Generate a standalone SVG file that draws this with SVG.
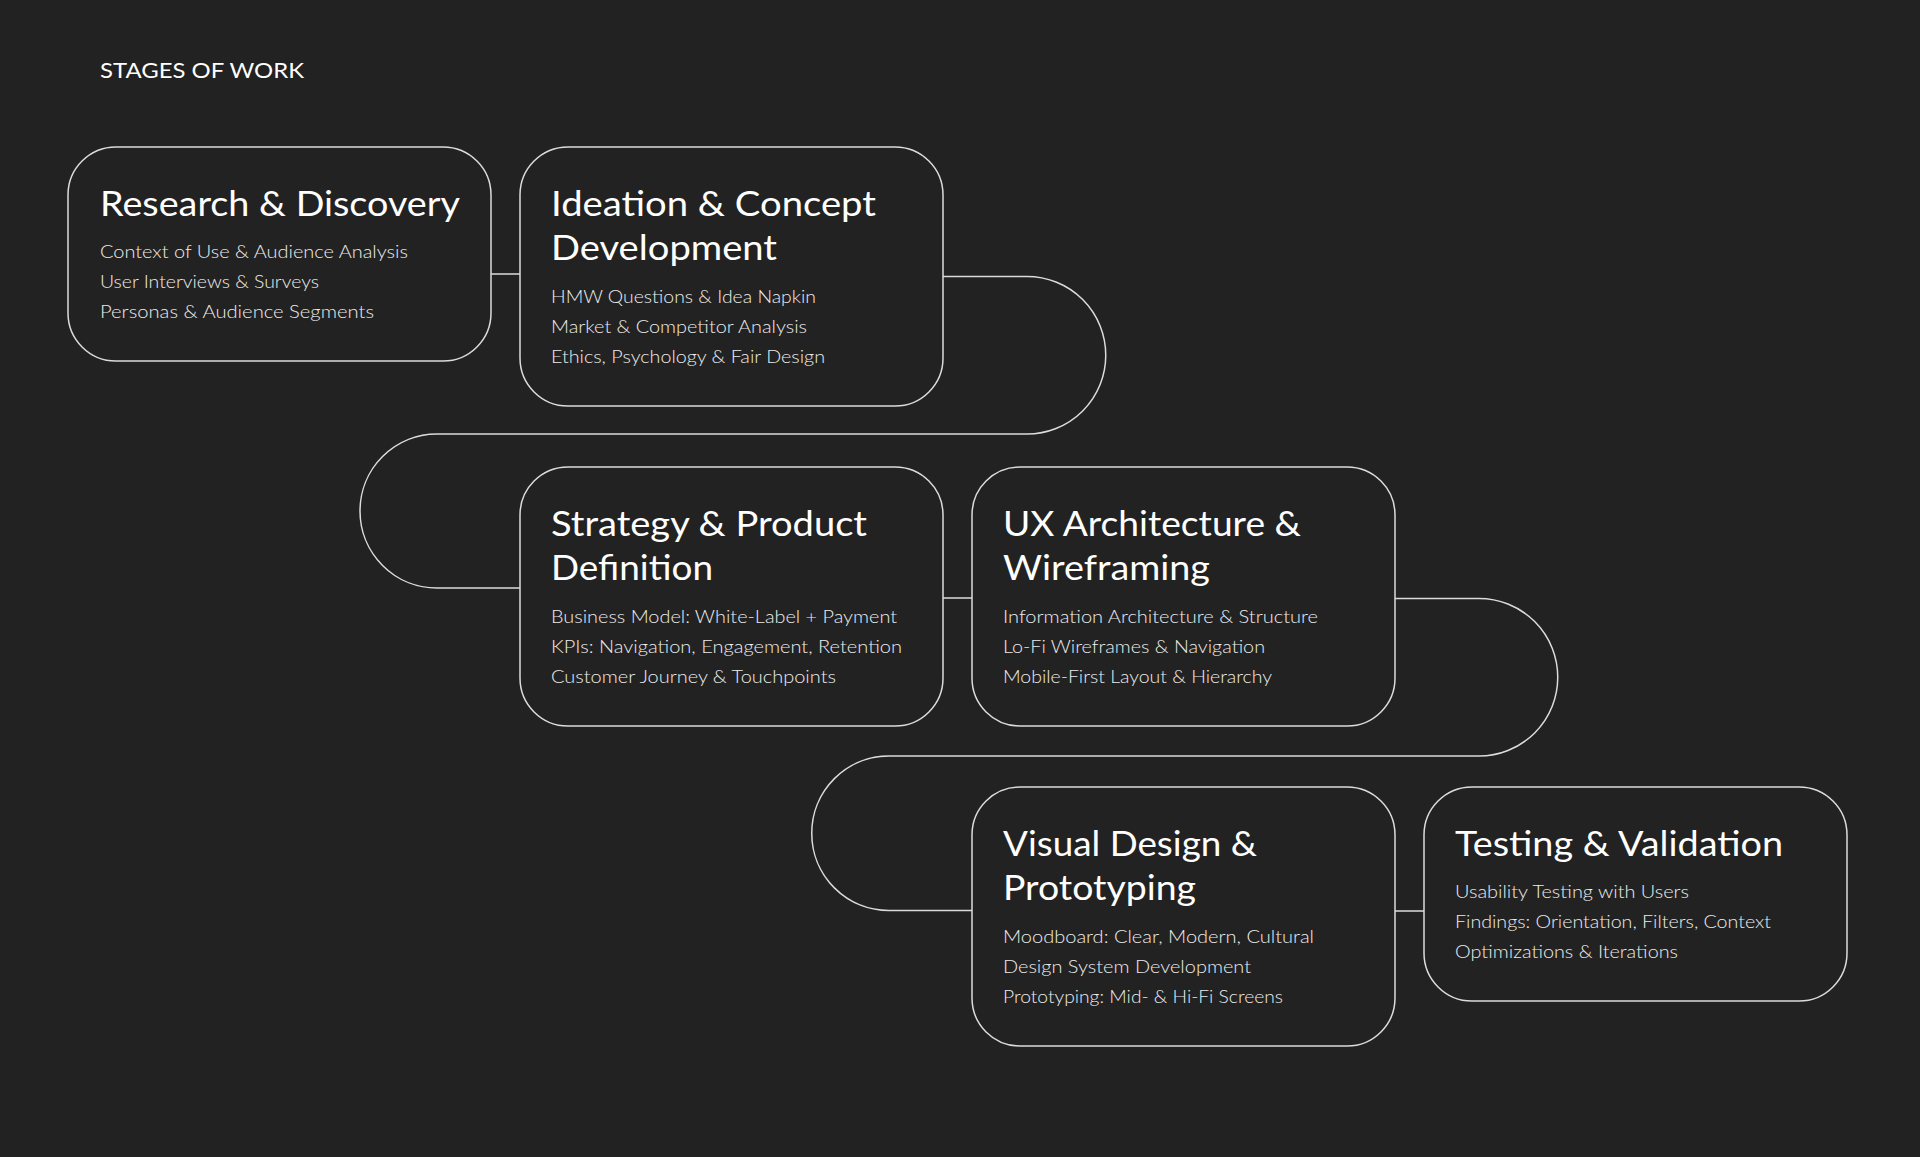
<svg xmlns="http://www.w3.org/2000/svg" width="1920" height="1157" viewBox="0 0 1920 1157">
<style>
.bg{fill:#222222}
.box{fill:#222222;stroke:#dcdcdc;stroke-width:1.5}
.con{fill:none;stroke:#dcdcdc;stroke-width:1.5}
.hd{font-family:Lato,"Noto Sans",sans-serif;font-size:22px;font-weight:400;fill:#ffffff}
.h{font-family:Lato,"Noto Sans",sans-serif;font-size:34px;font-weight:400;fill:#ffffff}
.b{font-family:Lato,"Noto Sans",sans-serif;font-size:18.5px;font-weight:300;fill:#ececec}
</style>
<rect class="bg" x="0" y="0" width="1920" height="1157"/>
<text class="hd" x="100" y="78" textLength="204" lengthAdjust="spacingAndGlyphs">STAGES OF WORK</text>
<g id="connectors">
<path class="con" d="M491 274H520"/>
<path class="con" d="M943 276.5H1027A78.75 78.75 0 0 1 1027 434H437A77 77 0 0 0 437 588H520"/>
<path class="con" d="M943 598H972"/>
<path class="con" d="M1395 598.5H1479A78.75 78.75 0 0 1 1479 756H889A77.25 77.25 0 0 0 889 910.5H972"/>
<path class="con" d="M1395 911H1424"/>
</g>
<g id="node-research">
<rect class="box" x="68" y="147" width="423" height="214" rx="48"/>
<text class="h" x="100" y="216" textLength="360" lengthAdjust="spacingAndGlyphs">Research &amp; Discovery</text>
<text class="b" x="100" y="258.3" textLength="308" lengthAdjust="spacingAndGlyphs">Context of Use &amp; Audience Analysis</text>
<text class="b" x="100" y="288.3" textLength="219" lengthAdjust="spacingAndGlyphs">User Interviews &amp; Surveys</text>
<text class="b" x="100" y="318.3" textLength="274" lengthAdjust="spacingAndGlyphs">Personas &amp; Audience Segments</text>
</g>
<g id="node-ideation">
<rect class="box" x="520" y="147" width="423" height="259" rx="48"/>
<text class="h" x="551" y="216" textLength="325" lengthAdjust="spacingAndGlyphs">Ideation &amp; Concept</text>
<text class="h" x="551" y="260" textLength="226" lengthAdjust="spacingAndGlyphs">Development</text>
<text class="b" x="551" y="303" textLength="265" lengthAdjust="spacingAndGlyphs">HMW Questions &amp; Idea Napkin</text>
<text class="b" x="551" y="333" textLength="256" lengthAdjust="spacingAndGlyphs">Market &amp; Competitor Analysis</text>
<text class="b" x="551" y="363" textLength="274" lengthAdjust="spacingAndGlyphs">Ethics, Psychology &amp; Fair Design</text>
</g>
<g id="node-strategy">
<rect class="box" x="520" y="467" width="423" height="259" rx="48"/>
<text class="h" x="551" y="536" textLength="316" lengthAdjust="spacingAndGlyphs">Strategy &amp; Product</text>
<text class="h" x="551" y="580" textLength="162" lengthAdjust="spacingAndGlyphs">Definition</text>
<text class="b" x="551" y="623" textLength="346" lengthAdjust="spacingAndGlyphs">Business Model: White-Label + Payment</text>
<text class="b" x="551" y="653" textLength="351" lengthAdjust="spacingAndGlyphs">KPIs: Navigation, Engagement, Retention</text>
<text class="b" x="551" y="683" textLength="285" lengthAdjust="spacingAndGlyphs">Customer Journey &amp; Touchpoints</text>
</g>
<g id="node-ux">
<rect class="box" x="972" y="467" width="423" height="259" rx="48"/>
<text class="h" x="1003" y="536" textLength="298" lengthAdjust="spacingAndGlyphs">UX Architecture &amp;</text>
<text class="h" x="1003" y="580" textLength="207" lengthAdjust="spacingAndGlyphs">Wireframing</text>
<text class="b" x="1003" y="623" textLength="315" lengthAdjust="spacingAndGlyphs">Information Architecture &amp; Structure</text>
<text class="b" x="1003" y="653" textLength="262" lengthAdjust="spacingAndGlyphs">Lo-Fi Wireframes &amp; Navigation</text>
<text class="b" x="1003" y="683" textLength="269" lengthAdjust="spacingAndGlyphs">Mobile-First Layout &amp; Hierarchy</text>
</g>
<g id="node-visual">
<rect class="box" x="972" y="787" width="423" height="259" rx="48"/>
<text class="h" x="1003" y="856" textLength="254" lengthAdjust="spacingAndGlyphs">Visual Design &amp;</text>
<text class="h" x="1003" y="900" textLength="193" lengthAdjust="spacingAndGlyphs">Prototyping</text>
<text class="b" x="1003" y="943" textLength="311" lengthAdjust="spacingAndGlyphs">Moodboard: Clear, Modern, Cultural</text>
<text class="b" x="1003" y="973" textLength="248" lengthAdjust="spacingAndGlyphs">Design System Development</text>
<text class="b" x="1003" y="1003" textLength="280" lengthAdjust="spacingAndGlyphs">Prototyping: Mid- &amp; Hi-Fi Screens</text>
</g>
<g id="node-testing">
<rect class="box" x="1424" y="787" width="423" height="214" rx="48"/>
<text class="h" x="1455" y="856" textLength="328" lengthAdjust="spacingAndGlyphs">Testing &amp; Validation</text>
<text class="b" x="1455" y="898.3" textLength="234" lengthAdjust="spacingAndGlyphs">Usability Testing with Users</text>
<text class="b" x="1455" y="928.3" textLength="316" lengthAdjust="spacingAndGlyphs">Findings: Orientation, Filters, Context</text>
<text class="b" x="1455" y="958.3" textLength="223" lengthAdjust="spacingAndGlyphs">Optimizations &amp; Iterations</text>
</g>
</svg>
